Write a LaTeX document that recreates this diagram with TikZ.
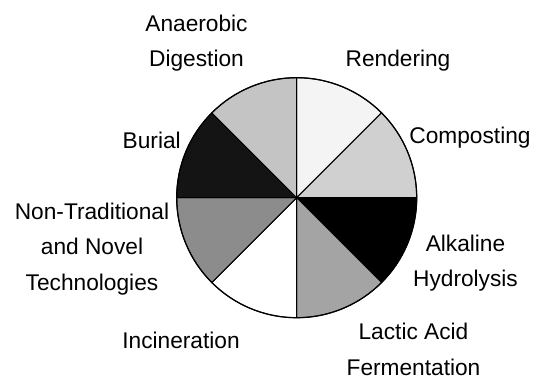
\documentclass[tikz,border=0pt]{standalone}
\usepackage{fontspec}
\setmainfont{Liberation Sans}
\usepackage{tikz}
\definecolor{blanc}{RGB}{255,255,255}
\definecolor{grisclair}{RGB}{244,244,244}
\definecolor{grisperle}{RGB}{208,208,208}
\definecolor{grisfonce}{RGB}{164,164,164}
\definecolor{grisardoise}{RGB}{140,140,140}
\definecolor{grismoyen}{RGB}{196,196,196}
\definecolor{noir}{RGB}{0,0,0}
\definecolor{charbon}{RGB}{20,20,20}

\begin{document}
\begin{tikzpicture}[x=1pt, y=1pt, font=\fontsize{22.7}{35.5}\selectfont,
		etiquette/.style={anchor=base, align=center, inner sep=0pt},
		part/.style={draw=black, line width=1pt, line join=round}]
				\useasboundingbox (0,0) rectangle (537,381);
				\coordinate (c) at (296.7,183.3);
				
				% Parts du disque
				\filldraw[part, fill=grisclair] (c) -- ++(90:120) arc[start angle=90, end angle=45, radius=120] -- cycle;
				\filldraw[part, fill=grisperle] (c) -- ++(45:120) arc[start angle=45, end angle=0, radius=120] -- cycle;
				\filldraw[part, fill=noir] (c) -- ++(0:120) arc[start angle=0, end angle=-45, radius=120] -- cycle;
				\filldraw[part, fill=grisfonce] (c) -- ++(-45:120) arc[start angle=-45, end angle=-90, radius=120] -- cycle;
				\filldraw[part, fill=blanc] (c) -- ++(-90:120) arc[start angle=-90, end angle=-135, radius=120] -- cycle;
				\filldraw[part, fill=grisardoise] (c) -- ++(-135:120) arc[start angle=-135, end angle=-180, radius=120] -- cycle;
				\filldraw[part, fill=charbon] (c) -- ++(180:120) arc[start angle=180, end angle=135, radius=120] -- cycle;
				\filldraw[part, fill=grismoyen] (c) -- ++(135:120) arc[start angle=135, end angle=90, radius=120] -- cycle;
				\draw[line width=1.2pt] (c) circle[radius=120];
				
				% Etiquettes (base = derniere ligne)
				\node[etiquette] (rendering) at (398,315) {Rendering};
				\node[etiquette] (composting) at (470,237.7) {Composting};
				\node[etiquette] (alkaline) at (465.5,94.3) {Alkaline\\Hydrolysis};
				\node[etiquette] (lactic) at (413.5,6) {Lactic Acid\\Fermentation};
				\node[etiquette] (incineration) at (181,32.7) {Incineration};
				\node[etiquette] (nontrad) at (92,91) {Non-Traditional\\and Novel\\Technologies};
				\node[etiquette] (burial) at (151.7,232.7) {Burial};
				\node[etiquette] (anaerobic) at (196.5,314.3) {Anaerobic\\Digestion};
			\end{tikzpicture}
\end{document}
